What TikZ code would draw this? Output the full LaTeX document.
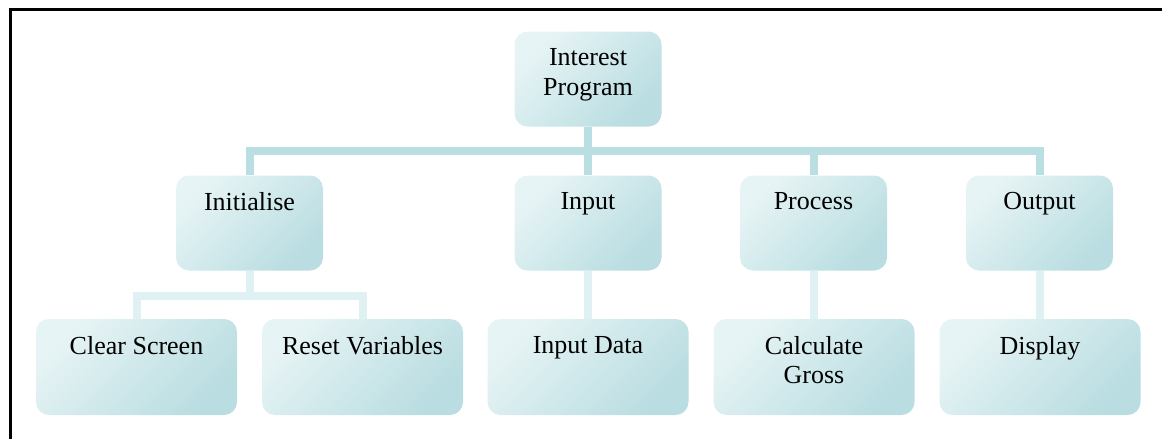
\documentclass[tikz,border=0pt]{standalone}
\usepackage{fontspec}
\setmainfont{Liberation Serif}
\definecolor{boxlight}{HTML}{E7F4F5}
\definecolor{boxmid}{HTML}{DCEFF1}
\definecolor{boxdark}{HTML}{B9DDE1}
\definecolor{busc}{HTML}{B9DFE3}
\definecolor{subc}{HTML}{E0F1F3}
\tikzset{
  x=1pt, y=-1pt,
  box/.style={draw=none, rounded corners=13pt, inner sep=0pt,
    top color=boxlight, middle color=boxmid, bottom color=boxdark, shading angle=45},
  midbox/.style={box, minimum width=147pt, minimum height=95pt},
  lowbox/.style={box, minimum width=201pt, minimum height=96pt},
  lbl/.style={anchor=north, yshift=-17pt, inner sep=0pt, align=center,
    font=\fontsize{26}{29.5}\selectfont},
  bus/.style={draw=busc, line width=8pt},
  sublink/.style={draw=subc, line width=8pt},
}
\begin{document}
\begin{tikzpicture}
\useasboundingbox (0,0) rectangle (1162,439);
% frame
\draw[line width=3pt] (10,439) -- (10,9) -- (1162,9);

% nodes
\node[midbox, label={[lbl]north:Interest\\Program}] (top) at (588,79) {};
\node[midbox, label={[lbl]north:Initialise}] (init) at (249.5,223) {};
\node[midbox, label={[lbl]north:Input}] (input) at (588,223) {};
\node[midbox, label={[lbl]north:Process}] (proc) at (813.5,223) {};
\node[midbox, label={[lbl]north:Output}] (out) at (1039.5,223) {};

\node[lowbox, label={[lbl]north:Clear Screen}] (clear) at (136.5,367) {};
\node[lowbox, label={[lbl]north:Reset Variables}] (reset) at (362.5,367) {};
\node[lowbox, label={[lbl]north:Input Data}] (indata) at (588,367) {};
\node[lowbox, label={[lbl]north:Calculate\\Gross}] (calc) at (814,367) {};
\node[lowbox, label={[lbl]north:Display}] (disp) at (1040,367) {};

% bus coordinates
\coordinate (bus) at (588,151);
\coordinate (sub) at (249.5,296);

% top level connectors
\draw[bus] (top.south) -- (bus);
\draw[bus] (init.north) |- (bus) -| (out.north);
\draw[bus] (input.north) -- (bus);
\draw[bus] (proc.north) -- (proc.north |- bus);

% second level connectors
\draw[sublink] (init.south) -- (sub);
\draw[sublink] (clear.north) |- (sub) -| (reset.north);
\draw[sublink] (input.south) -- (indata.north);
\draw[sublink] (proc.south) -- (proc.south |- calc.north);
\draw[sublink] (out.south) -- (out.south |- disp.north);
\end{tikzpicture}
\end{document}
